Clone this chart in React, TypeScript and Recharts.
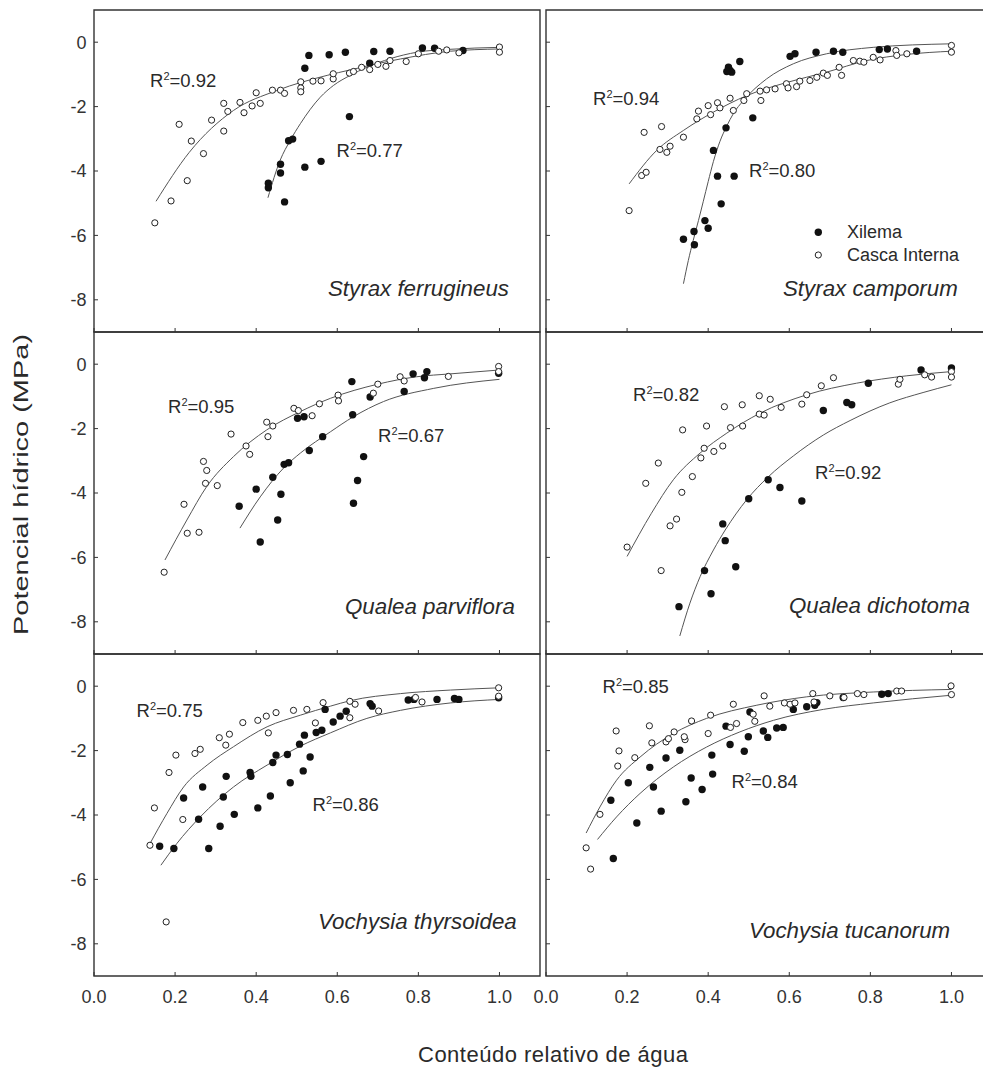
import React from 'react';
import { ScatterChart, Scatter, XAxis, YAxis, ReferenceArea } from 'recharts';

type Pt = [number, number];

// Styrax ferrugineus
const sfXilema: Pt[] = [
  [0.53, -0.41], [0.58, -0.39], [0.52, -0.81], [0.48, -3.06], [0.49, -3.01], [0.52, -3.88], [0.56, -3.7],
  [0.46, -3.79], [0.46, -4.06], [0.43, -4.38], [0.43, -4.52], [0.47, -4.96], [0.62, -0.31], [0.63, -2.31],
  [0.69, -0.29], [0.73, -0.28], [0.81, -0.18], [0.84, -0.19], [0.91, -0.26], [0.68, -0.65],
];
const sfCasca: Pt[] = [
  [0.15, -5.61], [0.19, -4.93], [0.23, -4.3], [0.24, -3.07], [0.21, -2.55], [0.27, -3.46], [0.29, -2.42],
  [0.32, -2.76], [0.32, -1.9], [0.33, -2.15], [0.36, -1.87], [0.37, -2.19], [0.39, -1.98], [0.4, -1.57],
  [0.41, -1.9], [0.44, -1.49], [0.46, -1.49], [0.47, -1.59], [0.51, -1.23], [0.51, -1.42], [0.51, -1.54],
  [0.54, -1.21], [0.56, -1.2], [0.59, -1.14], [0.59, -0.98], [0.63, -0.96], [0.64, -0.91], [0.66, -0.78],
  [0.68, -0.85], [0.7, -0.69], [0.72, -0.75], [0.73, -0.57], [0.77, -0.6], [0.8, -0.36], [0.85, -0.28],
  [0.87, -0.24], [0.9, -0.33], [1.0, -0.15], [1.0, -0.31],
];
const sfXilemaFit: Pt[] = [
  [0.429, -4.83], [0.459, -3.67], [0.484, -3.05], [0.509, -2.53], [0.558, -1.71], [0.591, -1.34],
  [0.632, -1.03], [0.673, -0.78], [0.731, -0.51], [0.797, -0.31], [0.879, -0.22], [1.0, -0.16],
];
const sfCascaFit: Pt[] = [
  [0.153, -4.94], [0.235, -3.42], [0.344, -2.12], [0.451, -1.5], [0.575, -1.03], [0.632, -0.86],
  [0.756, -0.52], [0.879, -0.28], [1.0, -0.21],
];

// Styrax camporum
const scXilema: Pt[] = [
  [0.454, -0.88], [0.45, -0.78], [0.458, -0.93], [0.446, -0.91], [0.478, -0.6], [0.602, -0.44], [0.614, -0.36],
  [0.666, -0.31], [0.709, -0.28], [0.732, -0.31], [0.822, -0.23], [0.842, -0.21], [0.914, -0.28], [0.51, -2.35],
  [0.444, -2.66], [0.413, -3.36], [0.423, -4.16], [0.464, -4.16], [0.432, -5.02], [0.392, -5.54], [0.4, -5.78],
  [0.365, -5.88], [0.339, -6.12], [0.366, -6.29],
];
const scCasca: Pt[] = [
  [0.205, -5.23], [0.236, -4.14], [0.247, -4.04], [0.242, -2.8], [0.285, -2.62], [0.281, -3.33], [0.298, -3.42],
  [0.306, -3.23], [0.339, -2.95], [0.372, -2.38], [0.376, -2.14], [0.4, -1.97], [0.406, -2.25], [0.423, -1.88],
  [0.429, -2.04], [0.454, -1.74], [0.462, -2.12], [0.488, -1.81], [0.495, -1.6], [0.528, -1.52], [0.53, -1.81],
  [0.544, -1.48], [0.565, -1.45], [0.593, -1.29], [0.597, -1.42], [0.618, -1.38], [0.626, -1.21], [0.651, -1.19],
  [0.668, -1.09], [0.684, -0.96], [0.694, -1.03], [0.723, -0.78], [0.729, -1.03], [0.758, -0.57], [0.774, -0.59],
  [0.784, -0.62], [0.807, -0.47], [0.824, -0.55], [0.863, -0.26], [0.865, -0.41], [0.89, -0.36], [1.0, -0.1],
  [1.0, -0.31],
];
const scXilemaFit: Pt[] = [
  [0.339, -7.5], [0.351, -6.78], [0.363, -6.16], [0.376, -5.54], [0.388, -4.94], [0.4, -4.33], [0.413, -3.7],
  [0.429, -3.08], [0.446, -2.6], [0.462, -2.22], [0.487, -1.81], [0.544, -1.14], [0.61, -0.67], [0.692, -0.36],
  [0.807, -0.16], [1.0, -0.05],
];
const scCascaFit: Pt[] = [
  [0.205, -4.4], [0.273, -3.36], [0.339, -2.74], [0.413, -2.17], [0.495, -1.66], [0.594, -1.25],
  [0.692, -0.93], [0.791, -0.57], [0.89, -0.38], [1.0, -0.28],
];

// Qualea parviflora
const qpXilema: Pt[] = [
  [0.358, -4.41], [0.41, -5.52], [0.4, -3.88], [0.441, -3.51], [0.453, -4.84], [0.461, -4.04], [0.469, -3.11],
  [0.48, -3.06], [0.502, -1.68], [0.518, -1.63], [0.531, -2.68], [0.564, -2.25], [0.636, -0.54], [0.638, -1.57],
  [0.681, -1.02], [0.765, -0.85], [0.665, -2.87], [0.65, -3.61], [0.64, -4.32], [0.787, -0.3], [0.815, -0.42],
  [0.821, -0.23], [0.998, -0.28],
];
const qpCasca: Pt[] = [
  [0.173, -6.46], [0.222, -4.35], [0.23, -5.25], [0.259, -5.22], [0.27, -3.02], [0.278, -3.3], [0.275, -3.7],
  [0.304, -3.77], [0.338, -2.17], [0.375, -2.54], [0.384, -2.8], [0.426, -1.8], [0.429, -2.25], [0.441, -1.92],
  [0.493, -1.37], [0.504, -1.44], [0.538, -1.6], [0.556, -1.23], [0.602, -0.96], [0.603, -1.14], [0.689, -0.9],
  [0.7, -0.62], [0.755, -0.39], [0.765, -0.52], [0.874, -0.38], [0.998, -0.07], [0.998, -0.23],
];
const qpXilemaFit: Pt[] = [
  [0.36, -5.09], [0.41, -4.12], [0.468, -3.22], [0.509, -2.76], [0.583, -2.1], [0.64, -1.63], [0.714, -1.16],
  [0.838, -0.75], [1.0, -0.47],
];
const qpCascaFit: Pt[] = [
  [0.175, -6.08], [0.229, -4.84], [0.278, -3.8], [0.344, -2.87], [0.426, -2.04], [0.509, -1.47], [0.583, -1.06],
  [0.7, -0.62], [0.796, -0.39], [0.879, -0.3], [1.0, -0.18],
];

// Qualea dichotoma
const qdXilema: Pt[] = [
  [0.328, -7.53], [0.391, -6.41], [0.407, -7.13], [0.436, -4.96], [0.442, -5.48], [0.468, -6.29], [0.5, -4.18],
  [0.548, -3.59], [0.577, -3.83], [0.631, -4.25], [0.684, -1.44], [0.742, -1.19], [0.754, -1.26], [0.795, -0.59],
  [0.925, -0.18], [1.0, -0.12],
];
const qdCasca: Pt[] = [
  [0.2, -5.68], [0.246, -3.7], [0.277, -3.07], [0.284, -6.41], [0.306, -5.02], [0.322, -4.81], [0.335, -3.98],
  [0.337, -2.04], [0.361, -3.49], [0.382, -2.91], [0.39, -2.61], [0.396, -1.92], [0.414, -2.71], [0.436, -2.54],
  [0.44, -1.32], [0.455, -1.97], [0.484, -1.26], [0.485, -1.92], [0.526, -0.98], [0.526, -1.55], [0.538, -1.58],
  [0.553, -1.09], [0.58, -1.34], [0.631, -1.24], [0.643, -0.95], [0.679, -0.67], [0.709, -0.42], [0.869, -0.62],
  [0.873, -0.47], [0.934, -0.33], [0.951, -0.4], [1.0, -0.23], [1.0, -0.4],
];
const qdXilemaFit: Pt[] = [
  [0.33, -8.44], [0.355, -7.42], [0.38, -6.6], [0.413, -5.77], [0.442, -5.15], [0.495, -4.21], [0.548, -3.5],
  [0.61, -2.85], [0.684, -2.2], [0.75, -1.75], [0.848, -1.2], [0.93, -0.88], [1.0, -0.64],
];
const qdCascaFit: Pt[] = [
  [0.2, -5.97], [0.26, -4.63], [0.314, -3.59], [0.38, -2.76], [0.446, -2.14], [0.528, -1.52], [0.643, -0.95],
  [0.766, -0.59], [0.89, -0.36], [1.0, -0.23],
];

// Vochysia thyrsoidea
const vtXilema: Pt[] = [
  [0.162, -4.97], [0.197, -5.04], [0.221, -3.47], [0.258, -4.13], [0.268, -3.13], [0.283, -5.04], [0.311, -4.35],
  [0.319, -3.44], [0.326, -2.8], [0.346, -3.98], [0.385, -2.68], [0.387, -2.8], [0.404, -3.78], [0.435, -3.41],
  [0.441, -2.37], [0.449, -2.14], [0.477, -2.12], [0.484, -3.0], [0.507, -1.8], [0.516, -2.63], [0.519, -1.52],
  [0.533, -2.2], [0.548, -1.44], [0.562, -1.37], [0.57, -0.72], [0.59, -1.11], [0.607, -0.93], [0.622, -0.78],
  [0.681, -0.54], [0.686, -0.62], [0.775, -0.43], [0.789, -0.41], [0.846, -0.41], [0.889, -0.38], [0.9, -0.41],
  [0.998, -0.36],
];
const vtCasca: Pt[] = [
  [0.138, -4.94], [0.149, -3.78], [0.178, -7.32], [0.185, -2.68], [0.202, -2.14], [0.219, -4.14], [0.249, -2.09],
  [0.262, -1.96], [0.309, -1.6], [0.325, -1.83], [0.334, -1.49], [0.367, -1.13], [0.404, -1.06], [0.425, -0.93],
  [0.43, -1.45], [0.449, -0.82], [0.492, -0.75], [0.525, -0.72], [0.546, -1.14], [0.565, -0.51], [0.631, -0.47],
  [0.631, -0.98], [0.644, -0.56], [0.702, -0.77], [0.793, -0.35], [0.809, -0.49], [0.998, -0.05], [0.998, -0.31],
];
const vtXilemaFit: Pt[] = [
  [0.165, -5.56], [0.204, -4.89], [0.262, -4.06], [0.344, -3.13], [0.427, -2.45], [0.509, -1.86], [0.583, -1.45],
  [0.673, -1.0], [0.756, -0.75], [0.879, -0.52], [1.0, -0.41],
];
const vtCascaFit: Pt[] = [
  [0.138, -4.89], [0.18, -3.95], [0.221, -3.13], [0.279, -2.45], [0.344, -1.88], [0.427, -1.26], [0.509, -0.9],
  [0.583, -0.62], [0.632, -0.45], [0.756, -0.23], [0.879, -0.12], [1.0, -0.05],
];

// Vochysia tucanorum
const vuXilema: Pt[] = [
  [0.166, -5.35], [0.16, -3.54], [0.203, -3.0], [0.224, -4.25], [0.256, -2.52], [0.265, -3.13], [0.284, -3.88],
  [0.296, -2.23], [0.33, -1.99], [0.345, -3.59], [0.358, -2.85], [0.385, -3.21], [0.409, -2.14], [0.411, -2.73],
  [0.444, -1.24], [0.454, -1.81], [0.489, -2.02], [0.499, -1.57], [0.503, -0.8], [0.536, -1.39], [0.547, -1.59],
  [0.569, -1.3], [0.585, -1.28], [0.61, -0.72], [0.643, -0.64], [0.663, -0.59], [0.668, -0.51], [0.733, -0.35],
  [0.828, -0.25], [0.844, -0.23],
];
const vuCasca: Pt[] = [
  [0.099, -5.02], [0.11, -5.68], [0.133, -3.98], [0.173, -1.39], [0.18, -2.01], [0.177, -2.48], [0.219, -2.22],
  [0.255, -1.23], [0.261, -1.76], [0.296, -1.73], [0.302, -1.63], [0.316, -1.42], [0.343, -1.66], [0.341, -1.57],
  [0.359, -1.08], [0.4, -1.47], [0.406, -0.9], [0.462, -0.56], [0.47, -1.16], [0.455, -1.28], [0.511, -0.87],
  [0.515, -1.09], [0.538, -0.3], [0.552, -0.62], [0.588, -0.52], [0.602, -0.56], [0.614, -0.52], [0.658, -0.23],
  [0.661, -0.49], [0.7, -0.3], [0.735, -0.35], [0.768, -0.23], [0.784, -0.26], [0.865, -0.15], [0.877, -0.15],
  [0.999, 0.01], [1.0, -0.26],
];
const vuXilemaFit: Pt[] = [
  [0.127, -4.76], [0.174, -4.06], [0.232, -3.33], [0.314, -2.51], [0.396, -1.89], [0.478, -1.42], [0.561, -1.06],
  [0.684, -0.72], [0.807, -0.52], [1.0, -0.28],
];
const vuCascaFit: Pt[] = [
  [0.099, -4.56], [0.133, -3.75], [0.174, -2.92], [0.232, -2.2], [0.314, -1.47], [0.396, -1.0], [0.52, -0.59],
  [0.643, -0.33], [0.807, -0.18], [1.0, -0.1],
];

const xTicks = [0, 0.2, 0.4, 0.6, 0.8, 1.0];
const yTicks = [-8, -6, -4, -2, 0];

const PLOT_W = 446;
const PLOT_H = 322;
const FONT = '"Liberation Sans", Arial, Helvetica, sans-serif';
const INK = '#2a2a2a';

const toObj = (pts: Pt[]) => pts.map(([x, y]) => ({ x, y }));

const FilledDot = (p: any) => <circle cx={p.cx} cy={p.cy} r={3.7} fill="#111" />;
const OpenDot = (p: any) => <circle cx={p.cx} cy={p.cy} r={3.1} fill="#fff" stroke="#222" strokeWidth={1} />;
const NoDot = () => <g />;

type PanelProps = {
  left: number;
  top: number;
  xilema: Pt[];
  casca: Pt[];
  xilemaFit: Pt[];
  cascaFit: Pt[];
  labelX: boolean;
  labelY: boolean;
};

function Panel({ left, top, xilema, casca, xilemaFit, cascaFit, labelX, labelY }: PanelProps) {
  // right-hand panels keep a small gutter so the "0.0" tick label is not clipped
  const yw = labelY ? 94 : 24;
  const xh = labelX ? 40 : 6;
  return (
    <div style={{ position: 'absolute', left: left - yw, top: top - 4 }}>
      <ScatterChart width={yw + PLOT_W + 4} height={PLOT_H + 4 + xh} margin={{ top: 4, right: 4, bottom: 0, left: 0 }}>
        <XAxis
          type="number"
          dataKey="x"
          domain={[0, 1.1]}
          ticks={xTicks}
          interval={0}
          allowDataOverflow
          height={xh}
          axisLine={false}
          tickLine={{ stroke: '#333' }}
          tickSize={-4}
          tickMargin={18}
          tick={{ fontSize: 18, fill: '#333' }}
          tickFormatter={(v: number) => (labelX ? v.toFixed(1) : '')}
        />
        <YAxis
          type="number"
          dataKey="y"
          domain={[-9, 1]}
          ticks={yTicks}
          interval={0}
          allowDataOverflow
          width={yw}
          axisLine={false}
          tickLine={{ stroke: '#333' }}
          tickSize={-4}
          tickMargin={11.5}
          tick={{ fontSize: 18, fill: '#333' }}
          tickFormatter={(v: number) => (labelY ? String(v) : '')}
        />
        <ReferenceArea x1={0} x2={1.1} y1={-9} y2={1} fill="none" stroke="#333" strokeWidth={1.4} ifOverflow="visible" />
        <Scatter data={toObj(cascaFit)} shape={NoDot} line={{ stroke: '#555', strokeWidth: 1 }} lineJointType="monotoneX" isAnimationActive={false} />
        <Scatter data={toObj(xilemaFit)} shape={NoDot} line={{ stroke: '#555', strokeWidth: 1 }} lineJointType="monotoneX" isAnimationActive={false} />
        <Scatter data={toObj(xilema)} shape={FilledDot} isAnimationActive={false} />
        <Scatter data={toObj(casca)} shape={OpenDot} isAnimationActive={false} />
      </ScatterChart>
    </div>
  );
}

const r2Labels = [
  { x: 150, y: 87, text: '0.92' },
  { x: 336.5, y: 157, text: '0.77' },
  { x: 593, y: 105, text: '0.94' },
  { x: 749, y: 177, text: '0.80' },
  { x: 168, y: 412.5, text: '0.95' },
  { x: 378, y: 442, text: '0.67' },
  { x: 633, y: 400.5, text: '0.82' },
  { x: 815, y: 479, text: '0.92' },
  { x: 136.5, y: 717, text: '0.75' },
  { x: 312.5, y: 811, text: '0.86' },
  { x: 602.5, y: 693, text: '0.85' },
  { x: 731.5, y: 788, text: '0.84' },
];

const speciesLabels = [
  { x: 328, y: 296, text: 'Styrax ferrugineus' },
  { x: 783, y: 296, text: 'Styrax camporum' },
  { x: 345, y: 614, text: 'Qualea parviflora' },
  { x: 789, y: 612.5, text: 'Qualea dichotoma' },
  { x: 318, y: 929, text: 'Vochysia thyrsoidea' },
  { x: 749, y: 937.5, text: 'Vochysia tucanorum' },
];

export default function App() {
  return (
    <div
      style={{
        position: 'absolute',
        left: 0,
        top: 0,
        width: 983,
        height: 1068,
        overflow: 'hidden',
        background: '#fff',
        fontFamily: FONT,
      }}
    >
      <Panel left={94} top={10} xilema={sfXilema} casca={sfCasca} xilemaFit={sfXilemaFit} cascaFit={sfCascaFit} labelX={false} labelY />
      <Panel left={546} top={10} xilema={scXilema} casca={scCasca} xilemaFit={scXilemaFit} cascaFit={scCascaFit} labelX={false} labelY={false} />
      <Panel left={94} top={332} xilema={qpXilema} casca={qpCasca} xilemaFit={qpXilemaFit} cascaFit={qpCascaFit} labelX={false} labelY />
      <Panel left={546} top={332} xilema={qdXilema} casca={qdCasca} xilemaFit={qdXilemaFit} cascaFit={qdCascaFit} labelX={false} labelY={false} />
      <Panel left={94} top={654} xilema={vtXilema} casca={vtCasca} xilemaFit={vtXilemaFit} cascaFit={vtCascaFit} labelX labelY />
      <Panel left={546} top={654} xilema={vuXilema} casca={vuCasca} xilemaFit={vuXilemaFit} cascaFit={vuCascaFit} labelX labelY={false} />

      <svg width={983} height={1068} style={{ position: 'absolute', left: 0, top: 0, pointerEvents: 'none', fontFamily: FONT }}>
        {r2Labels.map((l, i) => (
          <text key={`r${i}`} x={l.x} y={l.y} fontSize={18.5} fill={INK}>
            R<tspan dy={-7} fontSize={11}>2</tspan>
            <tspan dy={7}>={l.text}</tspan>
          </text>
        ))}
        {speciesLabels.map((l, i) => (
          <text key={`s${i}`} x={l.x} y={l.y} fontSize={22.3} fontStyle="italic" fill={INK}>
            {l.text}
          </text>
        ))}

        <circle cx={818.3} cy={232.3} r={3.7} fill="#111" />
        <text x={847} y={238.3} fontSize={18} fill={INK}>Xilema</text>
        <circle cx={818.3} cy={255} r={3.1} fill="#fff" stroke="#222" strokeWidth={1} />
        <text x={847} y={261.3} fontSize={18} fill={INK}>Casca Interna</text>

        <text x={418} y={1061.5} fontSize={22} fill={INK} textLength={270} lengthAdjust="spacing">
          Conteúdo relativo de água
        </text>
        <text transform="translate(28.3, 635) rotate(-90) scale(1.38, 1)" fontSize={21} fill={INK}>
          Potencial hídrico (MPa)
        </text>
      </svg>
    </div>
  );
}
